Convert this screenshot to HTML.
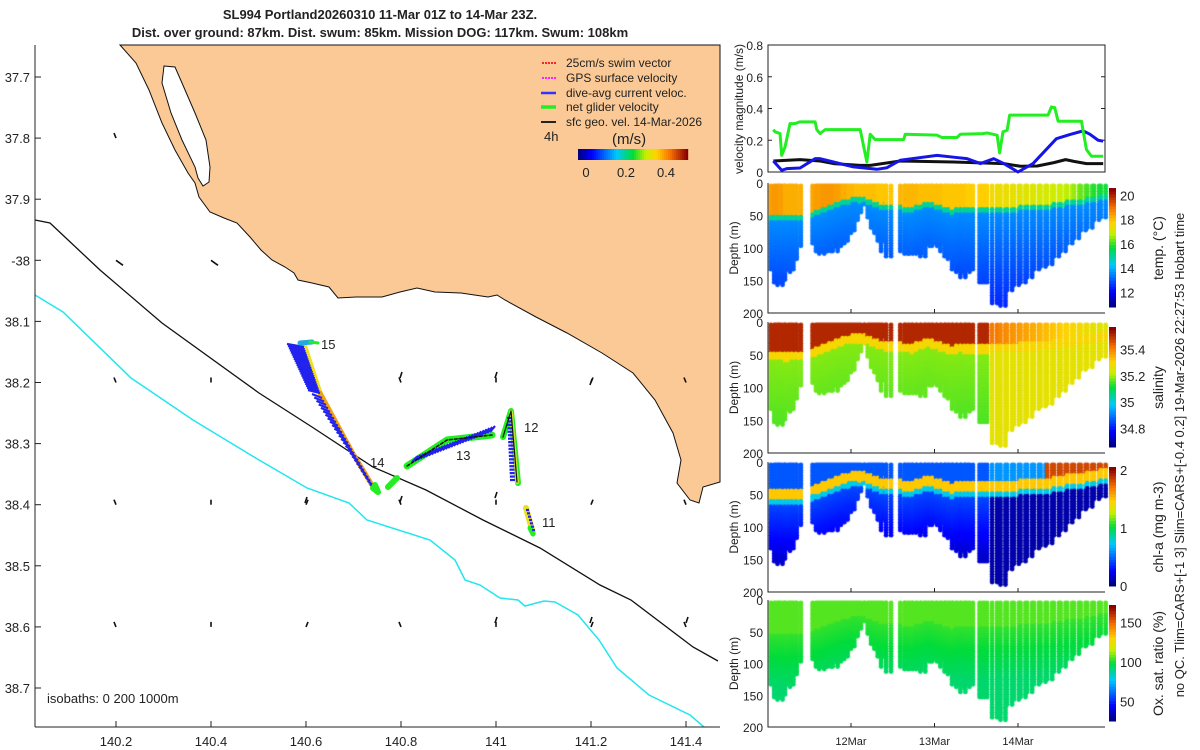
<!DOCTYPE html>
<html><head><meta charset="utf-8">
<style>
html,body{margin:0;padding:0;background:#fff;}
#wrap{position:relative;width:1200px;height:750px;overflow:hidden;font-family:"Liberation Sans",sans-serif;}
svg{position:absolute;left:0;top:0;}
canvas{position:absolute;left:0;top:0;}
text{font-family:"Liberation Sans",sans-serif;fill:#222;}
</style></head>
<body>
<div id="wrap">
<canvas id="dots" width="1200" height="750"></canvas>
<svg id="svg" width="1200" height="750" xmlns="http://www.w3.org/2000/svg">
 <g>
  <text x="380" y="19" text-anchor="middle" font-size="13" font-weight="bold">SL994 Portland20260310 11-Mar 01Z to 14-Mar 23Z.</text>
  <text x="380" y="37" text-anchor="middle" font-size="13" font-weight="bold">Dist. over ground: 87km. Dist. swum: 85km. Mission DOG: 117km. Swum: 108km</text>
 </g>
 <g id="map">
  <polygon fill="#fbc995" stroke="#111" stroke-width="1"
   points="120,45 136,63 149,90 162,123 175,150 188,173 195,183 199,197 210,212 224,218 237,223 250,237 261,250 272,260 285,267 294,273 298,280 312,283 329,287 338,298 356,297 382,297 400,292 417,288 435,292 461,293 488,297 497,295 505,300 536,317 567,333 602,353 633,373 655,400 673,433 681,460 677,483 690,500 699,503 703,487 720,482 720,45"/>
  <polygon fill="#fff" stroke="#111" stroke-width="1"
   points="164,66 175,67 182,83 195,113 206,140 210,167 209,182 203,186 198,178 195,167 182,140 171,113 162,83"/>
  <polyline fill="none" stroke="#111" stroke-width="1.3"
   points="35,220 50,223 100,270 162,323 259,393 312,427 373,467 426,490 483,520 540,548 600,585 631,600 693,647 718,661"/>
  <polyline fill="none" stroke="#22e6ee" stroke-width="1.5"
   points="35,295 63,312 131,378 193,420 254,457 307,488 349,503 367,520 430,540 455,560 465,580 480,585 500,598 518,600 525,606 544,601 555,602 578,615 599,640 617,668 649,695 690,715 704,727"/>
  <g id="geoArrows"></g>
  <g id="track"></g>
  <g font-size="13">
   <text x="321" y="349">15</text>
   <text x="370" y="467">14</text>
   <text x="456" y="460">13</text>
   <text x="524" y="432">12</text>
   <text x="542" y="527">11</text>
  </g>
  <line x1="35" y1="45" x2="35" y2="727" stroke="#222"/>
  <line x1="35" y1="727" x2="720" y2="727" stroke="#222"/>
  <g id="mapTicks" font-size="13"></g>
  <text x="47" y="703" font-size="13">isobaths: 0   200  1000m</text>
  <g font-size="12">
   <line x1="556" y1="63" x2="541" y2="63" stroke="#f22" stroke-width="2" stroke-dasharray="2,1"/>
   <text x="566" y="67">25cm/s swim vector</text>
   <line x1="556" y1="78" x2="541" y2="78" stroke="#f2f" stroke-width="2" stroke-dasharray="2,1"/>
   <text x="566" y="82">GPS surface velocity</text>
   <line x1="556" y1="93" x2="541" y2="93" stroke="#33f" stroke-width="2.5"/>
   <text x="566" y="97">dive-avg current veloc.</text>
   <line x1="556" y1="107" x2="541" y2="107" stroke="#2e2" stroke-width="3.5"/>
   <text x="566" y="111">net glider velocity</text>
   <line x1="556" y1="122" x2="541" y2="122" stroke="#222" stroke-width="2"/>
   <text x="566" y="126">sfc geo. vel. 14-Mar-2026</text>
   <text x="544" y="141" font-size="13">4h</text>
   <text x="612" y="144" font-size="15">(m/s)</text>
   <g id="mapCbar"></g>
   <text x="586" y="177" font-size="13" text-anchor="middle">0</text>
   <text x="626" y="177" font-size="13" text-anchor="middle">0.2</text>
   <text x="666" y="177" font-size="13" text-anchor="middle">0.4</text>
  </g>
 </g>
 <g id="right"></g>
 <text transform="translate(1184,455) rotate(-90)" text-anchor="middle" font-size="13">no QC. Tlim=CARS+[-1 3] Slim=CARS+[-0.4 0.2] 19-Mar-2026 22:27:53 Hobart time</text>
</svg>
</div>
<script>
// ---- velocity magnitude data (time in days since 11-Mar 00Z, m/s)
const netT=[0.07,0.09,0.15,0.17,0.21,0.27,0.33,0.39,0.57,0.59,0.63,0.69,1.11,1.19,1.23,1.29,1.63,1.65,2.03,2.09,2.27,2.31,2.58,2.63,2.75,2.78,2.82,2.87,2.90,3.36,3.40,3.44,3.48,3.76,3.82,3.88,4.02];
const netV=[0.267,0.253,0.242,0.105,0.158,0.305,0.305,0.316,0.316,0.267,0.242,0.267,0.267,0.063,0.238,0.204,0.204,0.238,0.232,0.217,0.217,0.238,0.242,0.246,0.232,0.12,0.253,0.263,0.358,0.358,0.41,0.406,0.32,0.32,0.141,0.099,0.099];
const daT=[0.07,0.17,0.23,0.39,0.57,0.63,0.79,1.03,1.31,1.43,1.59,1.83,2.03,2.27,2.39,2.55,2.71,2.83,3.00,3.18,3.46,3.62,3.78,3.86,3.96,4.02];
const daV=[0.069,0.011,0.021,0.025,0.084,0.084,0.063,0.032,0.017,0.027,0.074,0.091,0.105,0.091,0.084,0.053,0.084,0.053,0.0,0.053,0.21,0.236,0.259,0.238,0.2,0.194];
const geoT=[0.07,0.39,0.63,0.79,1.11,1.23,1.59,2.23,2.83,3.03,3.23,3.43,3.57,3.67,3.82,4.02];
const geoV=[0.069,0.078,0.069,0.053,0.042,0.042,0.069,0.063,0.053,0.036,0.038,0.059,0.078,0.067,0.053,0.053];
const velTicks=[0,0.2,0.4,0.6,0.8];
const dayTicks=[1,2,3];
const dayLabels=["12Mar","13Mar","14Mar"];
// ---- profiles: time (days), max depth (m), mixed-layer depth (m)
const profT=[0.07,0.11,0.15,0.18,0.24,0.28,0.32,0.37,0.57,0.61,0.65,0.69,0.73,0.77,0.81,0.85,0.89,0.93,0.97,1.01,1.05,1.09,1.13,1.19,1.23,1.27,1.31,1.35,1.39,1.45,1.62,1.67,1.71,1.76,1.81,1.86,1.91,1.95,2.00,2.05,2.10,2.15,2.19,2.24,2.29,2.34,2.39,2.43,2.57,2.60,2.72,2.82,2.90,2.98,3.06,3.14,3.22,3.30,3.38,3.46,3.54,3.62,3.70,3.78,3.86,3.94,4.02];
const profD=[130,150,155,145,135,130,115,95,90,100,105,100,100,95,100,95,90,85,75,70,55,40,25,30,50,65,75,85,100,110,100,105,105,100,105,110,95,90,95,90,100,110,115,130,135,140,135,130,150,150,180,185,160,155,150,140,130,125,120,110,100,90,80,70,65,55,50];
const profMld=[50,50,50,50,52,52,50,50,45,44,42,40,38,36,34,32,30,28,26,25,24,23,22,24,26,28,30,32,34,36,36,38,38,40,36,34,32,30,32,34,36,38,40,42,40,38,40,40,40,40,38,38,38,38,36,36,36,34,34,32,30,28,28,26,24,22,20];
const surfT=[18.2,18.3,18.3,18.2,18.0,18.0,18.0,18.0,18.1,18.2,18.2,18.3,18.3,18.3,18.3,18.2,18.2,18.0,18.0,17.9,17.9,17.8,17.8,17.8,17.8,17.8,17.8,17.7,17.7,17.7,17.9,17.9,17.9,17.9,17.9,17.8,17.8,17.8,17.8,17.8,17.8,17.7,17.7,17.7,17.7,17.7,17.7,17.6,17.6,17.6,17.3,17.2,17.2,17.1,17.0,17.0,16.9,16.8,16.8,16.7,16.6,16.5,16.3,16.0,15.8,15.6,15.5];
const mapTicksX=[140.2,140.4,140.6,140.8,141,141.2,141.4];
const mapTicksXL=["140.2","140.4","140.6","140.8","141","141.2","141.4"];
const mapTicksY=[37.7,37.8,37.9,38,38.1,38.2,38.3,38.4,38.5,38.6,38.7];
const mapTicksYL=["37.7","37.8","37.9","-38","38.1","38.2","38.3","38.4","38.5","38.6","38.7"];
const geoLon=[140.2,140.4,140.6,140.8,141,141.2,141.4];
const geoLat=[37.8,38,38.2,38.4,38.6];

const NS="http://www.w3.org/2000/svg";
const svg=document.getElementById('svg');
function mk(tag,attrs,parent){const e=document.createElementNS(NS,tag);for(const k in attrs)e.setAttribute(k,attrs[k]);parent.appendChild(e);return e;}
function jet(v){
 const st=[[0,[0,0,130]],[0.12,[0,0,255]],[0.35,[0,200,255]],[0.5,[0,220,60]],[0.62,[200,240,0]],[0.72,[255,210,0]],[0.85,[245,110,0]],[1,[140,0,0]]];
 v=Math.max(0,Math.min(1,v));
 for(let i=1;i<st.length;i++){if(v<=st[i][0]){const a=st[i-1],b=st[i],f=(v-a[0])/(b[0]-a[0]);return 'rgb('+a[1].map((c,j)=>Math.round(c+(b[1][j]-c)*f)).join(',')+')';}}
 return 'rgb(140,0,0)';
}
const lonX=l=>116+(l-140.2)*475, latY=l=>77+(l-37.7)*611;
const mt=document.getElementById('mapTicks');
mapTicksX.forEach((v,i)=>{const x=lonX(v);
 const l=mk('line',{x1:x,y1:727,x2:x,y2:721,stroke:'#222'},mt);
 
 
 const t=mk('text',{x:x,y:746,'text-anchor':'middle'},mt);t.textContent=mapTicksXL[i];
 
 });
mapTicksY.forEach((v,i)=>{const y=latY(v);
 const l=mk('line',{x1:35,y1:y,x2:41,y2:y,stroke:'#222'},mt);
 
 
 const t=mk('text',{x:30,y:y+5,'text-anchor':'end'},mt);t.textContent=mapTicksYL[i];
 
 });
const ga=document.getElementById('geoArrows');
geoLat.forEach((la,j)=>geoLon.forEach((lo,i)=>{
 const x=lonX(lo),y=latY(la);
 if(y<300 && x>150 && x<720 && !(j===1 && i<2)) return;
 const dx=(j===1)?7:((i%3)-1)*2, dy=(j===1)?5:-5;
 const l=mk('line',{x1:x,y1:y,x2:x+dx,y2:y+dy,stroke:'#111','stroke-width':1.6},ga);
 
 
}));
[[400,378],[495,378],[590,385],[495,498],[400,502],[305,503],[590,623],[686,623],[495,623]].forEach(p=>{
 const l=mk('line',{x1:p[0],y1:p[1],x2:p[0]+2,y2:p[1]-6,stroke:'#111','stroke-width':1.6},ga);
 
 });
const tr=document.getElementById('track');
function seg(pts,col,w){const e=mk('polyline',{points:pts.map(p=>p.join(',')).join(' '),fill:'none',stroke:col,'stroke-width':w,'stroke-linejoin':'round','stroke-linecap':'round'},tr);
 
 return e;}
function hatch(a,b,n,dx0,dx1,dy){for(let k=0;k<=n;k++){const f=k/n,x=a[0]+(b[0]-a[0])*f,y=a[1]+(b[1]-a[1])*f,L=dx0+(dx1-dx0)*f;
 const e=mk('line',{x1:x,y1:y,x2:x+L,y2:y+dy,stroke:'#2222ee','stroke-width':2.2},tr);
 
 }}
seg([[304,344],[320,393]],'#f0e020',5);
seg([[320,393],[352,452],[375,490]],'#f5a010',5);
hatch([304,347],[320,393],22,-17,-12,-3);
hatch([322,398],[374,488],26,-10,-4,-4);
seg([[300,343],[312,342]],'#2ad',5);
seg([[310,342],[318,343]],'#2e2',3);
seg([[373,488],[378,492],[375,485]],'#2e2',6);
seg([[388,487],[397,478]],'#2e2',6);
seg([[407,466],[447,440],[492,435]],'#2e2',7);
hatch([412,462],[490,432],28,6,5,-6);
seg([[407,466],[447,440],[492,435]],'#111',1.5).setAttribute('stroke-dasharray','3,2');
seg([[503,437],[511,411],[518,483]],'#2e2',6);
seg([[511,412],[517,482]],'#c8e030',4);
hatch([512,418],[515,480],18,-5,-5,0);
seg([[503,437],[511,411],[517,482]],'#111',1.2);
seg([[526,508],[533,533]],'#e8e020',6);
seg([[530,528],[533,534]],'#2e2',5);
hatch([526,510],[532,530],6,3,3,0);
const cb=document.getElementById('mapCbar');
for(let i=0;i<55;i++){const r=mk('rect',{x:578+i*2,y:149,width:2.2,height:11,fill:jet(i/54)},cb);
 
 }
const R=document.getElementById('right');
const X0=768,X1=1105,tX=t=>767.5+t*83.5;
const vTop=45,vBot=172,vY=v=>vBot-v/0.8*(vBot-vTop);
const fr=mk('rect',{x:X0,y:vTop,width:X1-X0,height:vBot-vTop,fill:'none',stroke:'#222'},R);


velTicks.forEach(v=>{const y=vY(v);
 const l=mk('line',{x1:X0,y1:y,x2:X0+4,y2:y,stroke:'#222'},R);
 const l2=mk('line',{x1:X1,y1:y,x2:X1-4,y2:y,stroke:'#222'},R);
 const t=mk('text',{x:763,y:y+5,'text-anchor':'end','font-size':12},R);t.textContent=String(v);
 });
const vl=mk('text',{transform:'translate(743,109) rotate(-90)','text-anchor':'middle','font-size':12},R);vl.textContent='velocity magnitude (m/s)';

function vline(T,V,col,w,name){const p=T.map((t,i)=>tX(t)+','+vY(V[i])).join(' ');
 const e=mk('polyline',{points:p,fill:'none',stroke:col,'stroke-width':w,'stroke-linejoin':'round'},R);
 }
vline(geoT,geoV,'#111',3,'sfc-geo-velocity-line');
vline(daT,daV,'#1515e8',3,'dive-avg-velocity-line');
vline(netT,netV,'#22ee22',3,'net-glider-velocity-line');
const panels=[
 {top:183,bot:313,name:'temperature',lab:'temp. (°C)',min:10.8,max:20.6,ticks:[12,14,16,18,20]},
 {top:322,bot:453,name:'salinity',lab:'salinity',min:34.66,max:35.57,ticks:[34.8,35,35.2,35.4]},
 {top:462,bot:592,name:'chlorophyll',lab:'chl-a (mg m-3)',min:0,max:2.05,ticks:[0,1,2]},
 {top:600,bot:727,name:'oxygen',lab:'Ox. sat. ratio (%)',min:25,max:172,ticks:[50,100,150]}];
function val(pi,k,d){
 const m=profMld[k],t=profT[k],late=t>2.65;
 if(pi===0){ if(d<m-4) return surfT[k]+0.3; if(d<m+4) return 15.0; return Math.max(12.4,13.6-(d-m)*0.008);}
 if(pi===1){ if(d<m-8) return late?35.42-(t-2.7)*0.12:35.52; if(d<m+6) return 35.3; return late?35.27:35.19-(d-m)*0.0003;}
 if(pi===2){ if(d<m-12) return late?(t>3.3?1.85:0.6):0.45; if(d<m+3) return 1.5; if(d<m+12) return 0.75; return late?0.08:Math.max(0.15,0.45-(d-m)*0.003);}
 if(pi===3){ if(d<m) return 106; return Math.max(93,103-(d-m)*0.12);}
}
const ctx=document.getElementById('dots').getContext('2d');
panels.forEach((P,pi)=>{
 const dY=d=>P.top+d/200*(P.bot-P.top);
 profT.forEach((t,k)=>{[-2.5,2.5].forEach(off=>{
  for(let d=0;d<=profD[k];d+=4){ctx.fillStyle=jet((val(pi,k,d)-P.min)/(P.max-P.min));
   ctx.beginPath();ctx.arc(tX(t)+off,dY(d)+3,2.4,0,7);ctx.fill();}
 });});
 const ax=mk('polyline',{points:`${X0},${P.top} ${X0},${P.bot} ${X1},${P.bot}`,fill:'none',stroke:'#222'},R);
 
 [0,50,100,150,200].forEach(d=>{const y=dY(d);
  const t=mk('text',{x:763,y:y+5,'text-anchor':'end','font-size':12},R);t.textContent=String(d);
  });
 dayTicks.forEach(dd=>{const l=mk('line',{x1:tX(dd),y1:P.bot,x2:tX(dd),y2:P.bot-4,stroke:'#222'},R);
  });
 const yl=mk('text',{transform:`translate(738,${(P.top+P.bot)/2}) rotate(-90)`,'text-anchor':'middle','font-size':12},R);yl.textContent='Depth (m)';
 
 const c0=P.top+5,c1=P.bot-6,n=40;
 for(let i=0;i<n;i++){const r=mk('rect',{x:1109,y:c1-(i+1)*(c1-c0)/n,width:7,height:(c1-c0)/n+0.5,fill:jet(i/(n-1))},R);
  }
 P.ticks.forEach(v=>{const y=c1-(v-P.min)/(P.max-P.min)*(c1-c0);
  const t=mk('text',{x:1120,y:y+5,'font-size':13},R);t.textContent=String(v);
  });
 const cl=mk('text',{transform:`translate(1163,${(P.top+P.bot)/2}) rotate(-90)`,'text-anchor':'middle','font-size':14},R);cl.textContent=P.lab;
 
});
dayTicks.forEach((dd,i)=>{const t=mk('text',{x:tX(dd),y:745,'text-anchor':'middle','font-size':11},R);t.textContent=dayLabels[i];
 });
</script>
</body></html>
